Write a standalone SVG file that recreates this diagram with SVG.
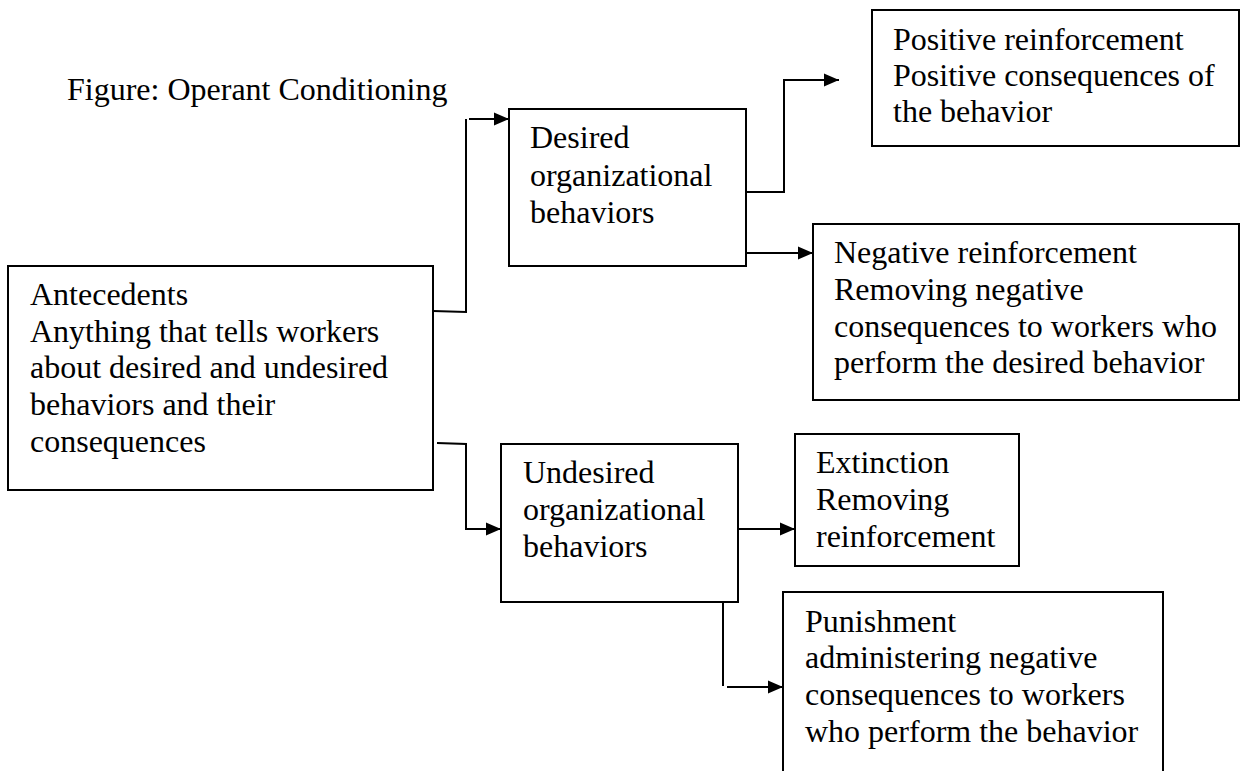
<svg xmlns="http://www.w3.org/2000/svg" width="1240" height="771" viewBox="0 0 1240 771">
  <style>
    .box { fill: #ffffff; stroke: #000000; stroke-width: 2; }
    .label { font-family: "Liberation Serif", "Times New Roman", serif; font-size: 32px; fill: #000000; }
    .wire { fill: none; stroke: #000000; stroke-width: 2; }
  </style>
  <defs>
    <marker id="arrow" markerUnits="userSpaceOnUse" markerWidth="16" markerHeight="14" refX="15" refY="7" orient="auto">
      <path d="M0,0.5 L15,7 L0,13.5 Z" fill="#000000"/>
    </marker>
  </defs>
  <rect width="1240" height="771" fill="#ffffff"/>

  <text class="label" x="67" y="100">Figure: Operant Conditioning</text>

  <g id="antecedents">
    <rect class="box" x="8" y="266" width="425" height="224"/>
    <text class="label">
      <tspan x="30" y="305">Antecedents</tspan>
      <tspan x="30" y="342">Anything that tells workers</tspan>
      <tspan x="30" y="378">about desired and undesired</tspan>
      <tspan x="30" y="415">behaviors and their</tspan>
      <tspan x="30" y="452">consequences</tspan>
    </text>
  </g>

  <g id="desired">
    <rect class="box" x="509" y="109" width="237" height="157"/>
    <text class="label">
      <tspan x="530" y="148">Desired</tspan>
      <tspan x="530" y="186">organizational</tspan>
      <tspan x="530" y="223">behaviors</tspan>
    </text>
  </g>

  <g id="undesired">
    <rect class="box" x="501" y="444" width="237" height="158"/>
    <text class="label">
      <tspan x="523" y="483">Undesired</tspan>
      <tspan x="523" y="520">organizational</tspan>
      <tspan x="523" y="557">behaviors</tspan>
    </text>
  </g>

  <g id="positive">
    <rect class="box" x="872" y="10" width="367" height="136"/>
    <text class="label">
      <tspan x="893" y="50">Positive reinforcement</tspan>
      <tspan x="893" y="86">Positive consequences of</tspan>
      <tspan x="893" y="122">the behavior</tspan>
    </text>
  </g>

  <g id="negative">
    <rect class="box" x="813" y="224" width="426" height="176"/>
    <text class="label">
      <tspan x="834" y="263">Negative reinforcement</tspan>
      <tspan x="834" y="300">Removing negative</tspan>
      <tspan x="834" y="337">consequences to workers who</tspan>
      <tspan x="834" y="373">perform the desired behavior</tspan>
    </text>
  </g>

  <g id="extinction">
    <rect class="box" x="795" y="434" width="224" height="132"/>
    <text class="label">
      <tspan x="816" y="473">Extinction</tspan>
      <tspan x="816" y="510">Removing</tspan>
      <tspan x="816" y="547">reinforcement</tspan>
    </text>
  </g>

  <g id="punishment">
    <rect class="box" x="783" y="592" width="380" height="200"/>
    <text class="label">
      <tspan x="805" y="632">Punishment</tspan>
      <tspan x="805" y="668">administering negative</tspan>
      <tspan x="805" y="705">consequences to workers</tspan>
      <tspan x="805" y="742">who perform the behavior</tspan>
    </text>
  </g>

  <g id="connectors">
    <!-- antecedents to desired -->
    <path class="wire" d="M433,311 L466,312 L466,119"/>
    <path class="wire" d="M469,119 L509,119" marker-end="url(#arrow)"/>
    <!-- antecedents to undesired -->
    <path class="wire" d="M437,443 L466,444 L466,529 L501,529" marker-end="url(#arrow)"/>
    <!-- desired to positive reinforcement -->
    <path class="wire" d="M746,192 L784,192 L784,80 L839,80" marker-end="url(#arrow)"/>
    <!-- desired to negative reinforcement -->
    <path class="wire" d="M746,253 L813,253" marker-end="url(#arrow)"/>
    <!-- undesired to extinction -->
    <path class="wire" d="M738,529 L795,529" marker-end="url(#arrow)"/>
    <!-- undesired to punishment -->
    <path class="wire" d="M723,602 L723,686"/>
    <path class="wire" d="M727,687 L783,687" marker-end="url(#arrow)"/>
  </g>
</svg>
